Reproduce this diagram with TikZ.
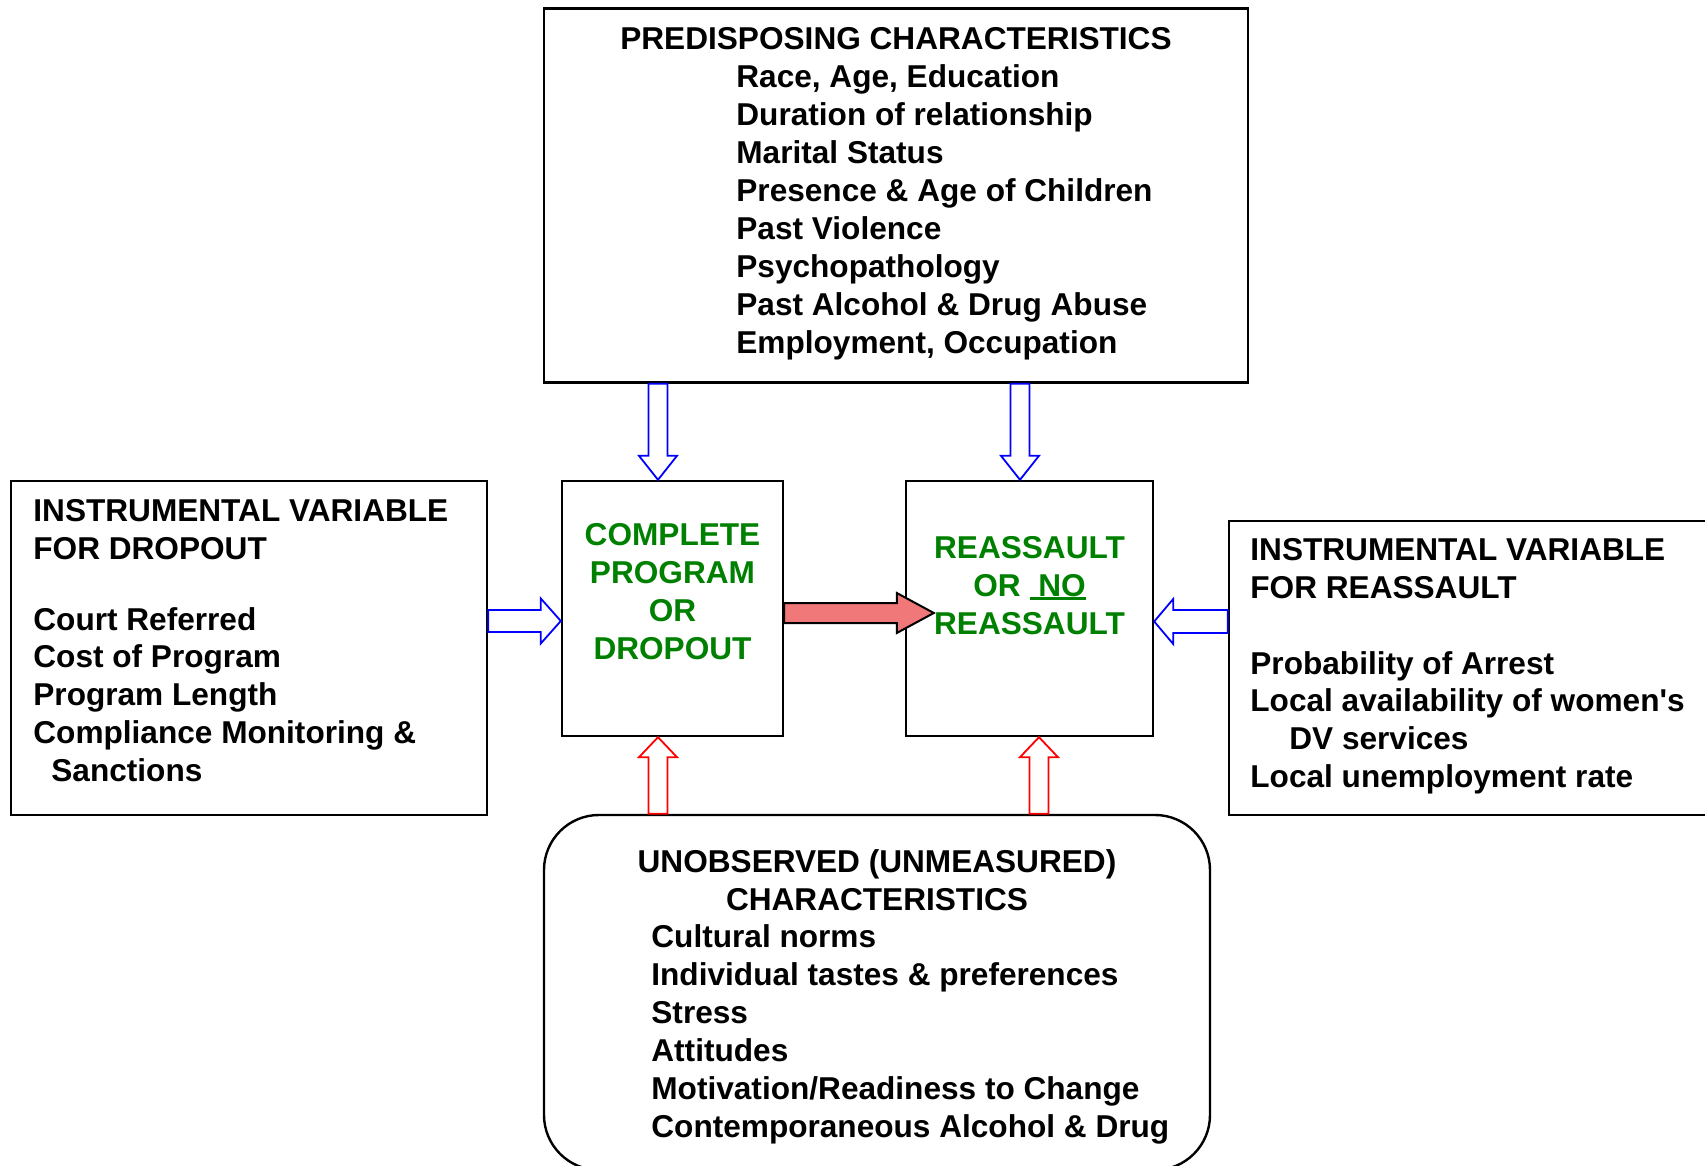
\documentclass[tikz,border=0pt]{standalone}
\usepackage{fontspec}
\setmainfont{Liberation Sans}
\usetikzlibrary{calc}

\definecolor{dkgreen}{RGB}{0,128,0}

% thick underline for single words
\newcommand\ulword[1]{\setbox0\hbox{#1}\rlap{\rule[-2pt]{\wd0}{1.5pt}}\box0}

% block arrows: style, tail, tip, shaft half width, head half width, head length
\newcommand\vblock[6]{%
  \draw[#1] let \p1=(#2), \p2=(#3), \n1={sign(\y2-\y1)} in
    ({\x1-#4},{\y1}) -- ({\x1-#4},{\y2-(\n1)*#6}) -- ({\x1-#5},{\y2-(\n1)*#6}) -- ({\x1},{\y2})
    -- ({\x1+#5},{\y2-(\n1)*#6}) -- ({\x1+#4},{\y2-(\n1)*#6}) -- ({\x1+#4},{\y1}) -- cycle;}
\newcommand\hblock[6]{%
  \draw[#1] let \p1=(#2), \p2=(#3), \n1={sign(\x2-\x1)} in
    ({\x1},{\y1-#4}) -- ({\x2-(\n1)*#6},{\y1-#4}) -- ({\x2-(\n1)*#6},{\y1-#5}) -- ({\x2},{\y1})
    -- ({\x2-(\n1)*#6},{\y1+#5}) -- ({\x2-(\n1)*#6},{\y1+#4}) -- ({\x1},{\y1+#4}) -- cycle;}

\tikzset{
  box/.style={draw, line width=1.2pt, inner sep=0pt},
  txt/.style={inner sep=0pt, font=\fontsize{15.8}{19}\selectfont\bfseries},
  bluearrow/.style={draw=blue, line width=0.9pt, fill=white},
  redarrow/.style={draw=red, line width=0.9pt, fill=white},
  mainarrow/.style={draw=black, line width=1pt, fill={rgb,255:red,240;green,120;blue,120}},
}

\begin{document}
\begin{tikzpicture}[x=0.5pt,y=-0.5pt]
\useasboundingbox (0,0) rectangle (1705,1166);

% boxes
\node[box, minimum width=352pt, minimum height=187pt] (pred) at (896,195.5) {};
\node[box, minimum width=238pt, minimum height=167pt] (ivdrop) at (249,648) {};
\node[box, minimum width=110.5pt, minimum height=127.5pt] (comp) at (672.5,608.5) {};
\node[box, minimum width=123.5pt, minimum height=127.5pt] (reas) at (1029.5,608.5) {};
\node[box, minimum width=248pt, minimum height=147pt] (ivreas) at (1477,668) {};
\node[box, rounded corners=27.5pt, minimum width=333pt, minimum height=177.5pt] (unobs) at (877,992.5) {};

% texts
\node[txt, anchor=north] (predhead) at (896,26.7) {PREDISPOSING CHARACTERISTICS};
\node[txt, anchor=north west, align=left] (predlist) at (736,64.7)
  {Race, Age, Education\\Duration of relationship\\Marital Status\\Presence \& Age of Children\\Past Violence\\Psychopathology\\Past Alcohol \& Drug Abuse\\Employment, Occupation};

\node[txt, anchor=north west, align=left] (drophead) at (33,498.7) {INSTRUMENTAL VARIABLE\\FOR DROPOUT};
\node[txt, anchor=north west, align=left] (droplist) at (33,606.7)
  {Court Referred\\Cost of Program\\Program Length\\Compliance Monitoring \&\\\hspace*{9pt}Sanctions};

\node[txt, text=dkgreen, anchor=north, align=center] (comptext) at (672.5,522.7) {COMPLETE\\PROGRAM\\OR\\DROPOUT};
\node[txt, text=dkgreen, anchor=north, align=center] (reastext) at (1029.5,535.7) {REASSAULT\\OR \ulword{\ NO}\\REASSAULT};

\node[txt, anchor=north west, align=left] (reashead) at (1250,537.7) {INSTRUMENTAL VARIABLE\\FOR REASSAULT};
\node[txt, anchor=north west, align=left] (reaslist) at (1250,650.7)
  {Probability of Arrest\\Local availability of women\textquotesingle s\\\hspace*{19.5pt}DV services\\Local unemployment rate};

\node[txt, anchor=north, align=center] (unobshead) at (877,848.7) {UNOBSERVED (UNMEASURED)\\CHARACTERISTICS};
\node[txt, anchor=north west, align=left] (unobslist) at (651,923.7)
  {Cultural norms\\Individual tastes \& preferences\\Stress\\Attitudes\\Motivation/Readiness to Change\\Contemporaneous Alcohol \& Drug};

% arrows
\coordinate (ax1) at (658,0);
\coordinate (ax2) at (1020,0);
\coordinate (ax3) at (1039,0);
\coordinate (ay1) at (0,621);
\coordinate (ay2) at (0,613);
\coordinate (ay3) at (0,621.5);

\vblock{bluearrow}{pred.south -| ax1}{comp.north -| ax1}{4.75pt}{9.5pt}{12pt}
\vblock{bluearrow}{pred.south -| ax2}{reas.north -| ax2}{4.75pt}{9.5pt}{12pt}
\vblock{redarrow}{unobs.north -| ax1}{comp.south -| ax1}{4.75pt}{9.5pt}{10pt}
\vblock{redarrow}{unobs.north -| ax3}{reas.south -| ax3}{4.75pt}{9.5pt}{10pt}
\hblock{bluearrow}{ivdrop.east |- ay1}{comp.west |- ay1}{5.5pt}{11.25pt}{10pt}
\hblock{bluearrow}{ivreas.west |- ay3}{reas.east |- ay3}{5.75pt}{11.25pt}{9.5pt}
\hblock{mainarrow}{comp.east |- ay2}{$(reas.west |- ay2)+(14.5pt,0)$}{5pt}{10pt}{18.5pt}
\end{tikzpicture}
\end{document}
